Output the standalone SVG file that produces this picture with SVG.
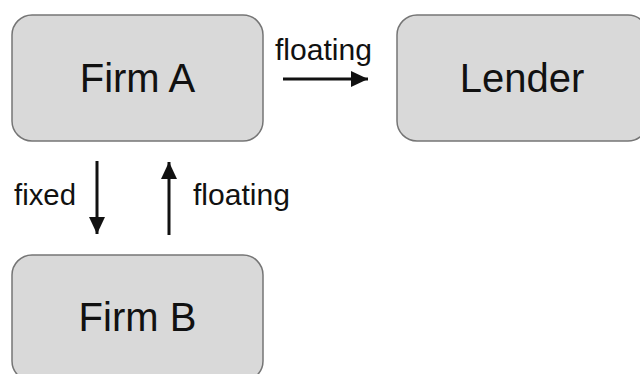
<svg xmlns="http://www.w3.org/2000/svg" width="640" height="374" viewBox="0 0 640 374">
  <style>
    .box { fill: #d9d9d9; stroke: #757575; stroke-width: 1.5; }
    .node-label { font-family: "Liberation Sans", Arial, sans-serif; font-size: 40px; fill: #111; text-anchor: middle; }
    .edge-label { font-family: "Liberation Sans", Arial, sans-serif; font-size: 30px; fill: #111; }
    .edge { stroke: #111; stroke-width: 3; fill: none; marker-end: url(#arrow); }
  </style>
  <defs>
    <marker id="arrow" viewBox="0 0 10 10" refX="10" refY="5" markerUnits="userSpaceOnUse" markerWidth="17" markerHeight="17" orient="auto">
      <path d="M0,0.3 L10,5 L0,9.7 Z" fill="#111"/>
    </marker>
  </defs>
  <rect width="640" height="374" fill="#ffffff"/>
  <g id="firm-a">
    <rect class="box" x="12" y="15" width="251" height="126" rx="20" ry="20"/>
    <text class="node-label" x="137.5" y="92">Firm A</text>
  </g>
  <g id="lender">
    <rect class="box" x="397" y="15" width="251" height="126" rx="20" ry="20"/>
    <text class="node-label" x="522" y="92">Lender</text>
  </g>
  <g id="firm-b">
    <rect class="box" x="12" y="255" width="251" height="126" rx="20" ry="20"/>
    <text class="node-label" x="137.5" y="331">Firm B</text>
  </g>
  <g id="connectors">
    <line class="edge" x1="283" y1="79" x2="368" y2="79"/>
    <line class="edge" x1="97" y1="161" x2="97" y2="234"/>
    <line class="edge" x1="169" y1="235" x2="169" y2="162"/>
    <text class="edge-label" x="275" y="60" textLength="97" lengthAdjust="spacingAndGlyphs">floating</text>
    <text class="edge-label" x="14" y="205" textLength="62" lengthAdjust="spacingAndGlyphs">fixed</text>
    <text class="edge-label" x="193" y="205" textLength="97" lengthAdjust="spacingAndGlyphs">floating</text>
  </g>
</svg>
